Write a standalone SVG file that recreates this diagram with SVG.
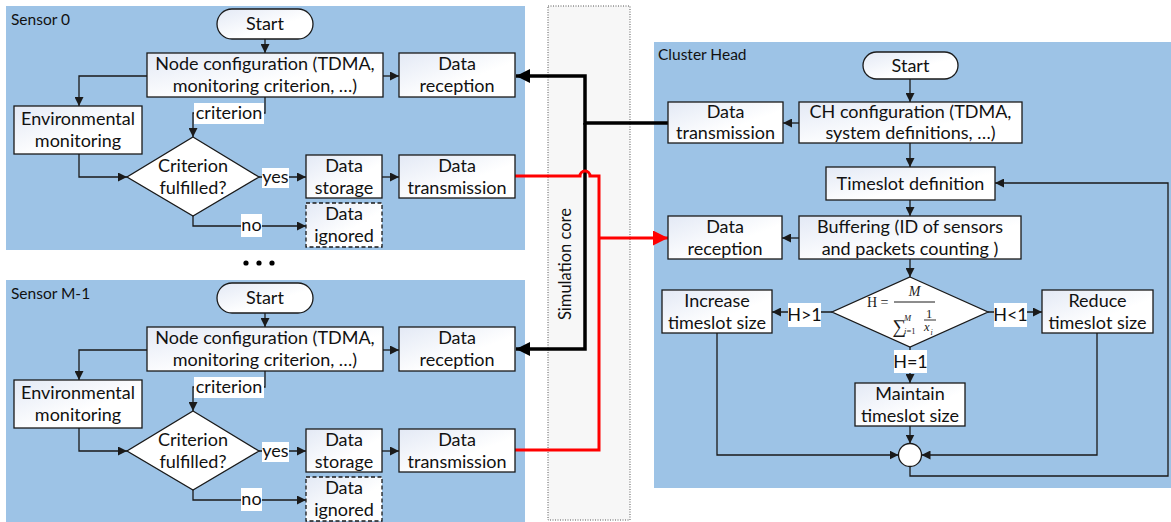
<svg xmlns="http://www.w3.org/2000/svg" width="1171" height="522" viewBox="0 0 1171 522">
<defs>
<style>
.panel{fill:#9dc3e6}
.box{fill:url(#bg);stroke:#1a1a1a;stroke-width:1.3}
.dash{stroke-dasharray:4 2.5}
.dia{fill:#ffffff;stroke:#1a1a1a;stroke-width:1.3}
.t{font-family:Lato,"Liberation Sans",sans-serif;font-size:18px;fill:#111;text-anchor:middle}
.pl{font-family:Lato,"Liberation Sans",sans-serif;font-size:15.5px;fill:#111}
.c{fill:none;stroke:#1a1a1a;stroke-width:1.3;marker-end:url(#a)}
.lb{fill:#ffffff}
.thick{fill:none;stroke:#000;stroke-width:3.5}
.red{fill:none;stroke:#ff0000;stroke-width:3}
.f{font-family:"Liberation Serif","DejaVu Serif",serif;fill:#1a1a1a}
</style>
<linearGradient id="bg" x1="0" y1="0" x2="1" y2="1">
<stop offset="0" stop-color="#e3e9f5"/>
<stop offset="0.6" stop-color="#ffffff"/>
</linearGradient>
<marker id="a" viewBox="0 0 10 10" refX="10" refY="5" markerWidth="9" markerHeight="9" markerUnits="userSpaceOnUse" orient="auto">
<path d="M0,0 L10,5 L0,10 z" fill="#1a1a1a"/>
</marker>
<marker id="ab" viewBox="0 0 10 10" refX="10" refY="5" markerWidth="15" markerHeight="14" markerUnits="userSpaceOnUse" orient="auto">
<path d="M0,0 L10,5 L0,10 z" fill="#000"/>
</marker>
<marker id="ar" viewBox="0 0 10 10" refX="10" refY="5" markerWidth="15" markerHeight="15" markerUnits="userSpaceOnUse" orient="auto">
<path d="M0,0 L10,5 L0,10 z" fill="#ff0000"/>
</marker>
</defs>

<g id="panels">
<rect class="panel" x="6" y="6" width="519" height="244"/>
<rect class="panel" x="6" y="280" width="519" height="242"/>
<rect class="panel" x="654" y="42" width="517" height="446"/>
<rect x="548" y="6" width="82" height="514" fill="#f7f7f7" stroke="#555" stroke-width="1" stroke-dasharray="1 1.5"/>
<text class="pl" x="11" y="25">Sensor 0</text>
<text class="pl" x="11" y="299">Sensor M-1</text>
<text class="pl" x="658" y="60">Cluster Head</text>
<text class="pl" x="571" y="264" text-anchor="middle" transform="rotate(-90 571 264)" style="font-size:16.5px">Simulation core</text>
<circle cx="246" cy="263" r="2.6" fill="#000"/>
<circle cx="259" cy="263" r="2.6" fill="#000"/>
<circle cx="272" cy="263" r="2.6" fill="#000"/>
</g>

<g id="connectors">
<g id="s0-connectors">
<path class="c" d="M265,39 V53"/>
<path class="c" d="M383,76 H399"/>
<path class="c" d="M147,76 H79 V106"/>
<path class="c" d="M265,97 V113 H193 V137"/>
<path class="c" d="M79,154 V177 H127"/>
<path class="c" d="M259,177 H306"/>
<path class="c" d="M382,177 H399"/>
<path class="c" d="M193,216 V226 H306"/>
<rect class="lb" x="194" y="103" width="70" height="21"/>
<text class="t" x="229" y="119">criterion</text>
<rect class="lb" x="262" y="168" width="27" height="20"/>
<text class="t" x="275.5" y="183">yes</text>
<rect class="lb" x="241" y="214" width="21" height="23"/>
<text class="t" x="251.5" y="231">no</text>
</g>
<g id="s1-connectors" transform="translate(0,274)">
<path class="c" d="M265,39 V53"/>
<path class="c" d="M383,76 H399"/>
<path class="c" d="M147,76 H79 V106"/>
<path class="c" d="M265,97 V113 H193 V137"/>
<path class="c" d="M79,154 V177 H127"/>
<path class="c" d="M259,177 H306"/>
<path class="c" d="M382,177 H399"/>
<path class="c" d="M193,216 V226 H306"/>
<rect class="lb" x="194" y="103" width="70" height="21"/>
<text class="t" x="229" y="119">criterion</text>
<rect class="lb" x="262" y="168" width="27" height="20"/>
<text class="t" x="275.5" y="183">yes</text>
<rect class="lb" x="241" y="214" width="21" height="23"/>
<text class="t" x="251.5" y="231">no</text>
</g>
<g id="ch-connectors">
<path class="c" d="M910,79 V102"/>
<path class="c" d="M799,123 H783"/>
<path class="c" d="M910,143 V167"/>
<path class="c" d="M910,200 V216"/>
<path class="c" d="M799,238 H782"/>
<path class="c" d="M910,259 V277"/>
<path class="c" d="M832,312 H772"/>
<path class="c" d="M988,312 H1042"/>
<path class="c" d="M910,347 V383"/>
<path class="c" d="M910,426 V443.5"/>
<path class="c" d="M717,333 V455 H898.5"/>
<path class="c" d="M1097,333 V455 H921.5"/>
<path class="c" d="M910,466.5 V476 H1168 V183 H995"/>
<rect class="lb" x="788" y="303" width="33" height="24"/>
<text class="t" x="804.5" y="321">H&gt;1</text>
<rect class="lb" x="994" y="303" width="33" height="24"/>
<text class="t" x="1010.5" y="321">H&lt;1</text>
<rect class="lb" x="894" y="350" width="33" height="23"/>
<text class="t" x="910.5" y="368">H=1</text>
</g>
<g id="core-links">
<path class="thick" d="M668,123 H585 V76 H516" marker-end="url(#ab)"/>
<path class="thick" d="M585,123 V349 H516" marker-end="url(#ab)"/>
<path class="red" d="M515,176 H580 A5,5 0 0 1 590,176 H599 V450 H515"/>
<path class="red" d="M599,238 H668" marker-end="url(#ar)"/>
</g>
</g>

<g id="sensor0">
<g id="s0-start"><rect class="box" x="217" y="9" width="96" height="30" rx="15"/><text class="t" x="265" y="30">Start</text></g>
<g id="s0-config"><rect class="box" x="147" y="53" width="236" height="44"/><text class="t" x="265" y="70">Node configuration (TDMA,</text><text class="t" x="265" y="92">monitoring criterion, …)</text></g>
<g id="s0-reception"><rect class="box" x="399" y="53" width="116" height="44"/><text class="t" x="457" y="70">Data</text><text class="t" x="457" y="92">reception</text></g>
<g id="s0-env"><rect class="box" x="14" y="106" width="128" height="48"/><text class="t" x="78" y="125">Environmental</text><text class="t" x="78" y="147">monitoring</text></g>
<g id="s0-decision"><polygon class="dia" points="193,137 259,177 193,216 127,177"/><text class="t" x="193" y="172">Criterion</text><text class="t" x="193" y="194">fulfilled?</text></g>
<g id="s0-storage"><rect class="box" x="306" y="155" width="76" height="43"/><text class="t" x="344" y="171.5">Data</text><text class="t" x="344" y="193.5">storage</text></g>
<g id="s0-transmission"><rect class="box" x="399" y="155" width="116" height="43"/><text class="t" x="457" y="171.5">Data</text><text class="t" x="457" y="193.5">transmission</text></g>
<g id="s0-ignored"><rect class="box dash" x="306" y="203" width="76" height="44"/><text class="t" x="344" y="220">Data</text><text class="t" x="344" y="242">ignored</text></g>
</g>

<g id="sensorM1" transform="translate(0,274)">
<g id="s1-start"><rect class="box" x="217" y="9" width="96" height="30" rx="15"/><text class="t" x="265" y="30">Start</text></g>
<g id="s1-config"><rect class="box" x="147" y="53" width="236" height="44"/><text class="t" x="265" y="70">Node configuration (TDMA,</text><text class="t" x="265" y="92">monitoring criterion, …)</text></g>
<g id="s1-reception"><rect class="box" x="399" y="53" width="116" height="44"/><text class="t" x="457" y="70">Data</text><text class="t" x="457" y="92">reception</text></g>
<g id="s1-env"><rect class="box" x="14" y="106" width="128" height="48"/><text class="t" x="78" y="125">Environmental</text><text class="t" x="78" y="147">monitoring</text></g>
<g id="s1-decision"><polygon class="dia" points="193,137 259,177 193,216 127,177"/><text class="t" x="193" y="172">Criterion</text><text class="t" x="193" y="194">fulfilled?</text></g>
<g id="s1-storage"><rect class="box" x="306" y="155" width="76" height="43"/><text class="t" x="344" y="171.5">Data</text><text class="t" x="344" y="193.5">storage</text></g>
<g id="s1-transmission"><rect class="box" x="399" y="155" width="116" height="43"/><text class="t" x="457" y="171.5">Data</text><text class="t" x="457" y="193.5">transmission</text></g>
<g id="s1-ignored"><rect class="box dash" x="306" y="203" width="76" height="44"/><text class="t" x="344" y="220">Data</text><text class="t" x="344" y="242">ignored</text></g>
</g>

<g id="clusterhead">
<g id="ch-start"><rect class="box" x="863" y="52" width="95" height="27" rx="13.5"/><text class="t" x="910.5" y="72">Start</text></g>
<g id="ch-config"><rect class="box" x="799" y="102" width="223" height="41"/><text class="t" x="910.5" y="117.5">CH configuration (TDMA,</text><text class="t" x="910.5" y="139">system definitions, …)</text></g>
<g id="ch-transmission"><rect class="box" x="668" y="102" width="115" height="41"/><text class="t" x="725.5" y="117.5">Data</text><text class="t" x="725.5" y="139">transmission</text></g>
<g id="ch-timeslot"><rect class="box" x="826" y="167" width="169" height="33"/><text class="t" x="910.5" y="189.5">Timeslot definition</text></g>
<g id="ch-buffering"><rect class="box" x="799" y="216" width="222" height="43"/><text class="t" x="910" y="232.5">Buffering (ID of sensors</text><text class="t" x="910" y="254.5">and packets counting )</text></g>
<g id="ch-reception"><rect class="box" x="668" y="216" width="114" height="43"/><text class="t" x="725" y="232.5">Data</text><text class="t" x="725" y="254.5">reception</text></g>
<g id="ch-decision"><polygon class="dia" points="910,277 988,312 910,347 832,312"/>
<text class="f" x="867" y="307" style="font-size:14px">H =</text>
<text class="f" x="914.5" y="296" text-anchor="middle" font-style="italic" style="font-size:14px">M</text>
<line x1="894" y1="302" x2="935" y2="302" stroke="#1a1a1a" stroke-width="1"/>
<text class="f" x="892.5" y="333" style="font-size:19px">∑</text>
<text class="f" x="904" y="321" font-style="italic" style="font-size:8.5px">M</text>
<text class="f" x="904" y="334" style="font-size:8.5px"><tspan font-style="italic">i</tspan>=1</text>
<text class="f" x="929" y="317.5" text-anchor="middle" style="font-size:12.5px">1</text>
<line x1="924" y1="320" x2="936" y2="320" stroke="#1a1a1a" stroke-width="0.9"/>
<text class="f" x="924" y="331" font-style="italic" style="font-size:12.5px">x</text>
<text class="f" x="930.5" y="334.5" font-style="italic" style="font-size:8px">i</text>
</g>
<g id="ch-increase"><rect class="box" x="662" y="290" width="110" height="43"/><text class="t" x="717" y="306.5">Increase</text><text class="t" x="717" y="328.5">timeslot size</text></g>
<g id="ch-reduce"><rect class="box" x="1042" y="290" width="111" height="43"/><text class="t" x="1097.5" y="306.5">Reduce</text><text class="t" x="1097.5" y="328.5">timeslot size</text></g>
<g id="ch-maintain"><rect class="box" x="855" y="383" width="110" height="43"/><text class="t" x="910" y="399.5">Maintain</text><text class="t" x="910" y="421.5">timeslot size</text></g>
<g id="ch-merge"><circle cx="910" cy="455" r="11.5" fill="#ffffff" stroke="#1a1a1a" stroke-width="1.3"/></g>
</g>
</svg>
